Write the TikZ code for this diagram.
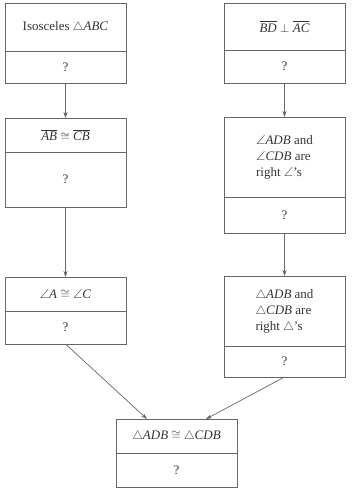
\documentclass[tikz,border=0pt]{standalone}
\usepackage{amsmath}
\usepackage{amssymb}
\usepackage{fontspec}
\setmainfont{Liberation Serif}
\usetikzlibrary{arrows.meta,positioning}

\begin{document}
\begin{tikzpicture}[
    font=\fontsize{13}{16}\selectfont,
    x=1pt, y=-1pt,
    node distance=0mm,
    box/.style={draw=black!60, line width=0.8pt, minimum width=121pt, inner sep=2pt, outer sep=0pt, text=black!80, align=center},
    stmt/.style={box, minimum height=#1},
    reason/.style={box, minimum height=#1},
    link/.style={-{Stealth[length=6pt,width=4pt]}, draw=black!60, line width=0.7pt}
]
\useasboundingbox (0,0) rectangle (351,490);

% left column
\node[stmt=48pt, anchor=north west] (iso) at (5,3) {Isosceles $\triangle$\textit{ABC}};
\node[reason=32pt, below=of iso] (isoq) {?};
\node[stmt=34pt, anchor=north west] (sides) at (5,118) {$\overline{\textit{AB}}\cong\overline{\textit{CB}}$};
\node[reason=55pt, below=of sides] (sidesq) {?};
\node[stmt=34pt, anchor=north west] (angs) at (5,277) {$\angle$\textit{A} $\cong$ $\angle$\textit{C}};
\node[reason=33pt, below=of angs] (angsq) {?};

% right column
\node[stmt=47pt, anchor=north west] (perp) at (224,3) {$\overline{\textit{BD}}\perp\overline{\textit{AC}}$};
\node[reason=33pt, below=of perp] (perpq) {?};
\node[stmt=80pt, anchor=north west, align=left] (rtang) at (224,117) {$\angle$\textit{ADB} and\\ $\angle$\textit{CDB} are\\ right $\angle$'s};
\node[reason=36pt, below=of rtang] (rtangq) {?};
\node[stmt=70pt, anchor=north west, align=left] (rttri) at (224,276) {$\triangle$\textit{ADB} and\\ $\triangle$\textit{CDB} are\\ right $\triangle$'s};
\node[reason=31pt, below=of rttri] (rttriq) {?};

% conclusion
\node[stmt=34pt, anchor=north west] (cong) at (116,419) {$\triangle$\textit{ADB} $\cong$ $\triangle$\textit{CDB}};
\node[reason=34pt, below=of cong] (congq) {?};

\draw[link] (isoq.south) -- (sides.north);
\draw[link] (sidesq.south) -- (angs.north);
\draw[link] (perpq.south) -- (rtang.north);
\draw[link] (rtangq.south) -- (rttri.north);
\draw[link] (angsq.south) -- ([xshift=31pt]cong.north west);
\draw[link] (rttriq.south) -- ([xshift=-31pt]cong.north east);
\end{tikzpicture}
\end{document}
